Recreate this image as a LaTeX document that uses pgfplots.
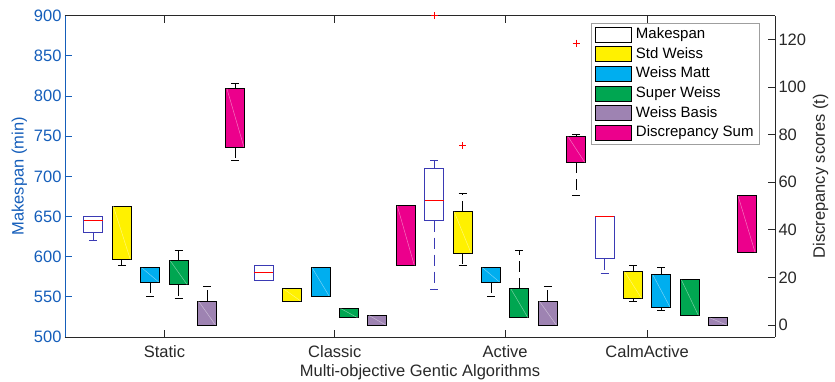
\documentclass[border=0pt]{standalone}
\usepackage{pgfplots}
\pgfplotsset{compat=1.18}
\usepackage{fontspec}
\setmainfont{Liberation Sans}
\definecolor{lblue}{RGB}{21,94,186}
\definecolor{mkedge}{RGB}{58,58,180}
\definecolor{axgray}{RGB}{40,40,40}
\definecolor{cyel}{RGB}{255,241,0}
\definecolor{ccyan}{RGB}{0,174,239}
\definecolor{cgreen}{RGB}{0,166,81}
\definecolor{cpurp}{RGB}{158,131,178}
\definecolor{cmag}{RGB}{236,0,140}
\newcommand{\tfont}{\fontsize{16.5}{19}\selectfont}
\newcommand{\lfont}{\fontsize{15}{18}\selectfont}
\pgfplotsset{
  legbox/.style={legend image code/.code={\draw[##1, line width=0.9pt] (0pt,-7.5pt) rectangle (36pt,7.5pt);}},
  wdash/.style={dash pattern=on 11pt off 6pt},
  common/.style={
    scale only axis, width=710pt, height=321.3pt,
    xmin=0, xmax=25,
    xtick={3.5,9.5,15.5,20.5},
    tick align=inside,
    major tick length=7pt,
    tick label style={font=\tfont},
    label style={font=\tfont},
    /pgf/number format/assume math mode=true,
    axis line style={line width=0.8pt},
    every tick/.style={line width=0.8pt},
  },
}
% generic box: fill, edge, pos, lower whisker, q1, q3, upper whisker
\newcommand{\bx}[7]{%
  \pgfmathsetmacro\bxL{#3-0.335}\pgfmathsetmacro\bxR{#3+0.335}%
  \pgfmathsetmacro\cpL{#3-0.14}\pgfmathsetmacro\cpR{#3+0.14}%
  \addplot[forget plot, draw=#2, line width=0.9pt, wdash] coordinates {(#3,#6) (#3,#7)};
  \addplot[forget plot, draw=#2, line width=0.9pt] coordinates {(\cpL,#7) (\cpR,#7)};
  \addplot[forget plot, draw=#2, line width=0.9pt, wdash] coordinates {(#3,#5) (#3,#4)};
  \addplot[forget plot, draw=#2, line width=0.9pt] coordinates {(\cpL,#4) (\cpR,#4)};
  \addplot[forget plot, draw=#2, fill=#1, line width=0.9pt] coordinates {(\bxL,#5) (\bxR,#5) (\bxR,#6) (\bxL,#6)} -- cycle;
}
% colored box with faint diagonal
\newcommand{\cbox}[6]{%
  \bx{#1}{black}{#2}{#3}{#4}{#5}{#6}%
  \pgfmathsetmacro\dgL{#2-0.3}\pgfmathsetmacro\dgR{#2+0.3}%
  \addplot[forget plot, white, opacity=0.45, line width=0.5pt] coordinates {(\dgL,#5) (\dgR,#4)};
}
% makespan box: pos, lw, q1, med, q3, uw
\newcommand{\mkbox}[6]{%
  \bx{white}{mkedge}{#1}{#2}{#3}{#5}{#6}%
  \addplot[forget plot, red, line width=0.9pt] coordinates {(\bxL,#4) (\bxR,#4)};
}
\begin{document}
\begin{tikzpicture}
\useasboundingbox (-65pt,-45pt) rectangle (770pt,337pt);
\begin{axis}[common,
  ymin=500, ymax=900, ytick={500,550,...,900},
  axis y line*=left,
  xticklabels={Static,Classic,Active,CalmActive},
  xlabel={Multi-objective Gentic Algorithms},
  ylabel={Makespan (min)},
  y axis line style={lblue}, ytick style={draw=lblue}, yticklabel style={text=lblue}, ylabel style={text=lblue},
  x axis line style={axgray}, xtick style={draw=axgray}, xticklabel style={text=axgray, yshift=-5pt}, xlabel style={text=axgray, yshift=-0.5pt},
]
\mkbox{1}{620}{630}{645}{650}{650}
\mkbox{7}{570}{570}{580}{589.5}{589.5}
\mkbox{13}{559.7}{645}{670.4}{709.7}{719.7}
\mkbox{19}{579.6}{597.4}{650}{650}{650}
\addplot[forget plot, only marks, mark=+, mark size=3.5pt, mark options={red, line width=0.7pt}] coordinates {(13,900)};
\end{axis}
\begin{axis}[common,
  ymin=-5, ymax=130, ytick={0,20,...,120},
  axis y line*=right, axis x line=none,
  ylabel={Discrepancy scores (t)},
  y axis line style={axgray}, ytick style={draw=axgray}, yticklabel style={text=axgray}, ylabel style={text=axgray},
  legend style={at={(0.7404,0.978)}, anchor=north west, draw=gray!75, line width=0.8pt, fill=white, font=\lfont, inner xsep=4pt, inner ysep=3pt, row sep=2.6pt, column sep=2.5pt, nodes={inner sep=1.5pt, text height=11pt, text depth=3pt}},
  legend cell align=left,
]
\cbox{cyel}{2}{25}{27.6}{50}{50}
\cbox{ccyan}{3}{12.2}{18.1}{24.1}{24.1}
\cbox{cgreen}{4}{11.1}{17}{27.1}{31.2}
\cbox{cpurp}{5}{0}{0}{10.1}{16.1}
\cbox{cmag}{6}{69.3}{74.8}{99.4}{101.5}
\cbox{cyel}{8}{10.1}{10.1}{15.2}{15.2}
\cbox{ccyan}{9}{12.2}{12.2}{24.1}{24.1}
\cbox{cgreen}{10}{3.1}{3.1}{7}{7}
\cbox{cpurp}{11}{0}{0}{4.1}{4.1}
\cbox{cmag}{12}{25.1}{25.1}{50.1}{50.1}
\cbox{cyel}{14}{25.1}{30.2}{47.7}{55.3}
\cbox{ccyan}{15}{12.2}{18.1}{24.1}{24.1}
\cbox{cgreen}{16}{3.1}{3.1}{15.2}{31.2}
\cbox{cpurp}{17}{0}{0}{10.1}{16.1}
\cbox{cmag}{18}{54.3}{68.4}{79.4}{80.3}
\cbox{cyel}{20}{10.1}{11.2}{22.6}{25.1}
\cbox{ccyan}{21}{6}{7.6}{21.1}{24.1}
\cbox{cgreen}{22}{4.1}{4.1}{19.1}{19.1}
\cbox{cpurp}{23}{0}{0}{3.1}{3.1}
\cbox{cmag}{24}{30.5}{30.5}{54.3}{54.3}
\addplot[forget plot, only marks, mark=+, mark size=3.5pt, mark options={red, line width=0.7pt}] coordinates {(14,75.4) (18,118.5)};
\addlegendimage{legbox, fill=white, draw=black}\addlegendentry{Makespan}
\addlegendimage{legbox, fill=cyel, draw=black}\addlegendentry{Std Weiss}
\addlegendimage{legbox, fill=ccyan, draw=black}\addlegendentry{Weiss Matt}
\addlegendimage{legbox, fill=cgreen, draw=black}\addlegendentry{Super Weiss}
\addlegendimage{legbox, fill=cpurp, draw=black}\addlegendentry{Weiss Basis}
\addlegendimage{legbox, fill=cmag, draw=black}\addlegendentry{Discrepancy Sum}
\end{axis}
\end{tikzpicture}
\end{document}
